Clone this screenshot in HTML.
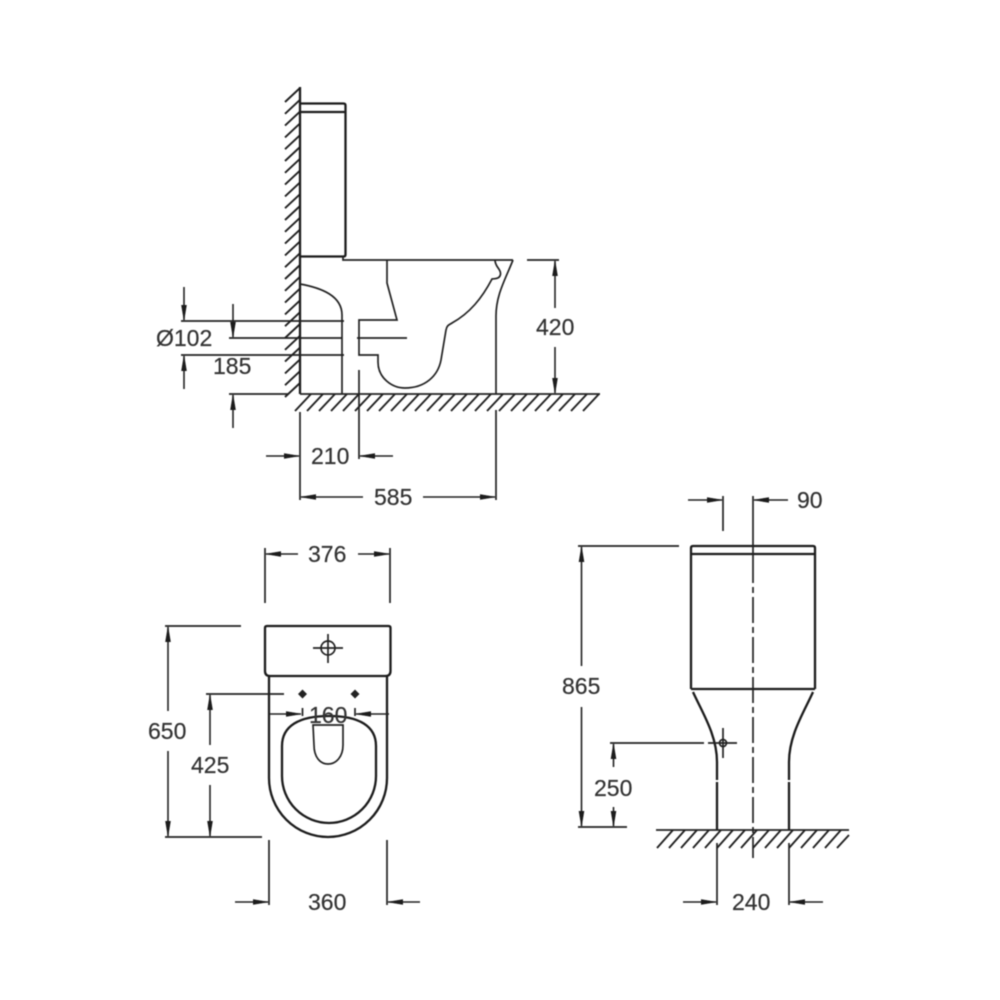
<!DOCTYPE html>
<html>
<head>
<meta charset="utf-8">
<style>
html,body{margin:0;padding:0;background:#fff;width:1000px;height:1000px;overflow:hidden}
svg{display:block;filter:blur(.4px)}
text{font-family:"Liberation Sans",sans-serif;font-size:23px;fill:#333;stroke:#333;stroke-width:.2}
.l{fill:none;stroke:#222;stroke-width:1.7}
.h{fill:none;stroke:#222;stroke-width:1.9}
.t{fill:none;stroke:#1c1c1c;stroke-width:2.3}
.a{fill:none;stroke:#222;stroke-width:1.6;marker-end:url(#a)}
</style>
</head>
<body>
<svg width="1000" height="1000" viewBox="0 0 1000 1000" xmlns="http://www.w3.org/2000/svg">
<defs>
<marker id="a" markerUnits="userSpaceOnUse" markerWidth="18" markerHeight="10" refX="15" refY="5" orient="auto"><path d="M0 2.500L15 5L0 7.500z" fill="#1c1c1c" stroke="#1c1c1c" stroke-width=".6"/></marker>
</defs>
<rect width="1000" height="1000" fill="#fff"/>

<!-- wall hatch -->
<path class="h" d="M300 88l-15 14m15-2.200l-15 14m15-2.200l-15 14m15-2.200l-15 14m15-2.200l-15 14m15-2.200l-15 14m15-2.200l-15 14m15-2.200l-15 14m15-2.200l-15 14m15-2.200l-15 14m15-2.200l-15 14m15-2.200l-15 14m15-2.200l-15 14m15-2.200l-15 14m15-2.200l-15 14m15-2.200l-15 14m15-2.200l-15 14m15-2.200l-15 14m15-2.200l-15 14m15-2.200l-15 14m15-2.200l-15 14m15-2.200l-15 14m15-2.200l-15 14m15-2.200l-15 14m15-2.200l-15 14m15-2.200l-15 14"/>
<path class="t" d="M300 87V394"/>
<!-- floor 1 -->
<path class="l" d="M300 394H600"/>
<path class="h" d="M311 394l-16 17m28-17l-16 17m28-17l-16 17m28-17l-16 17m28-17l-16 17m28-17l-16 17m28-17l-16 17m28-17l-16 17m28-17l-16 17m28-17l-16 17m28-17l-16 17m28-17l-16 17m28-17l-16 17m28-17l-16 17m28-17l-16 17m28-17l-16 17m28-17l-16 17m28-17l-16 17m28-17l-16 17m28-17l-16 17m28-17l-16 17m28-17l-16 17m28-17l-16 17m28-17l-16 17m28-17l-16 17"/>

<!-- side elevation toilet -->
<path class="t" d="M300 103.500H343.500Q345.500 103.500 345.500 105.500V254.500Q345.500 256.500 343.500 256.500H300"/>
<path class="t" d="M300 112H345"/>
<path class="l" d="M343 257V260H513"/>
<path class="l" d="M300 284C322 288 342 296 342 315V394"/>
<path class="l" d="M513 260C505 280 496 295 496 316V394"/>
<path class="l" d="M387 260L387 283L397 320H359V355H378V362C378 378 392 388 405 388C425 388 438 376 441 360L446 330C447 325 449 325 452 323C470 313 482 298 492 279C495 278.500 500 279 500.500 274C501 269 495 267 495 260"/>
<path class="l" d="M357 338H407"/>
<path class="l" d="M359 370V459M300 412V500M496 410V500"/>

<!-- side dims -->
<path class="l" d="M181 321H344M229 338H342M181 355H344M229 394H288"/>
<path class="a" d="M184 287V320"/>
<path class="a" d="M233 304V337"/>
<path class="a" d="M184 389V356"/>
<path class="a" d="M233 428V395"/>
<path class="a" d="M266 456H299"/>
<path class="a" d="M393 456H360"/>
<path class="a" d="M363 497H301"/>
<path class="a" d="M423 497H495"/>
<path class="l" d="M527 260H559"/>
<path class="a" d="M555 308V261"/>
<path class="a" d="M555 347V393"/>
<text x="156" y="346">Ø102</text>
<text x="213" y="374">185</text>
<text x="311" y="464">210</text>
<text x="374" y="505">585</text>
<text x="536" y="335">420</text>

<!-- plan view -->
<path class="t" d="M267 626H388.500Q390.500 626 390.500 628V671Q390.500 676 385.500 676H270Q265 676 265 671V628Q265 626 267 626Z"/>
<path class="t" d="M269 676V778A59 59 0 0 0 387 778V676"/>
<path class="t" d="M282 776V746C282 726 299 716 329 716C359 716 376 726 376 746V776A47 47 0 0 1 282 776Z"/>
<path class="l" d="M313 725H343V745C343 757 336 764 328 764C320 764 314 757 314 745Z"/>
<circle class="l" cx="328" cy="648" r="7"/>
<path class="l" d="M313 648H343M328 634V663"/>
<path d="M302.500 689.500l4.500 4.500l-4.500 4.500l-4.500-4.500zM355 689.500l4.500 4.500l-4.500 4.500l-4.500-4.500z" fill="#222"/>
<path class="l" d="M206 694H284M302.500 708V716M355 708V716"/>
<path class="a" d="M269 714H301"/>
<path class="a" d="M389 714H356"/>
<path class="l" d="M265 548V603M390 548V603"/>
<path class="a" d="M298 554H266"/>
<path class="a" d="M358 554H389"/>
<path class="l" d="M165 626H241M165 837H262"/>
<path class="a" d="M168 711V627"/>
<path class="a" d="M168 751V836"/>
<path class="a" d="M210 745V695"/>
<path class="a" d="M210 785V836"/>
<path class="l" d="M269 840V905M387 840V905"/>
<path class="a" d="M235 902H268"/>
<path class="a" d="M420 902H388"/>
<text x="308" y="562">376</text>
<text x="309" y="723">160</text>
<text x="148" y="739">650</text>
<text x="191" y="773">425</text>
<text x="308" y="910">360</text>

<!-- front elevation -->
<path class="t" d="M691 689V548Q691 546 693 546H813Q815 546 815 548V689"/>
<path class="t" d="M691 554H815M691 689H815"/>
<path class="t" d="M693 692C702 712 717 735 717 762V830"/>
<path class="t" d="M813 692C804 712 789 735 789 762V830"/>
<path d="M714 780h6v2h-6zM786 780h6v2h-6z" fill="#fff"/>
<path class="l" d="M656 830H849"/>
<path class="h" d="M673 830l-16 18m28-18l-16 18m28-18l-16 18m28-18l-16 18m28-18l-16 18m28-18l-16 18m28-18l-16 18m28-18l-16 18m28-18l-16 18m28-18l-16 18m28-18l-16 18m28-18l-16 18m28-18l-16 18m28-18l-16 18m28-18l-16 18M849 835l-12 13"/>
<path class="l" d="M753 496V583"/>
<path class="l" d="M753 587V858" stroke-dasharray="6 4 26 4"/>
<path class="l" d="M723 496V531"/>
<path class="a" d="M688 500H722"/>
<path class="a" d="M788 500H754"/>
<text x="797" y="508">90</text>
<path class="l" d="M578 546H679M578 827H627"/>
<path class="a" d="M581.500 666V547"/>
<path class="a" d="M581.500 707V826"/>
<path class="l" d="M610 743H704M708 743H737M723 728V758"/>
<circle class="l" cx="723" cy="743" r="3.500"/>
<path class="a" d="M613.500 767V744"/>
<path class="a" d="M613.500 807V826"/>
<path class="l" d="M717 843V905M789 843V905"/>
<path class="a" d="M683 902H716"/>
<path class="a" d="M823 902H790"/>
<text x="562" y="694">865</text>
<text x="594" y="796">250</text>
<text x="732" y="910">240</text>
</svg>
</body>
</html>
